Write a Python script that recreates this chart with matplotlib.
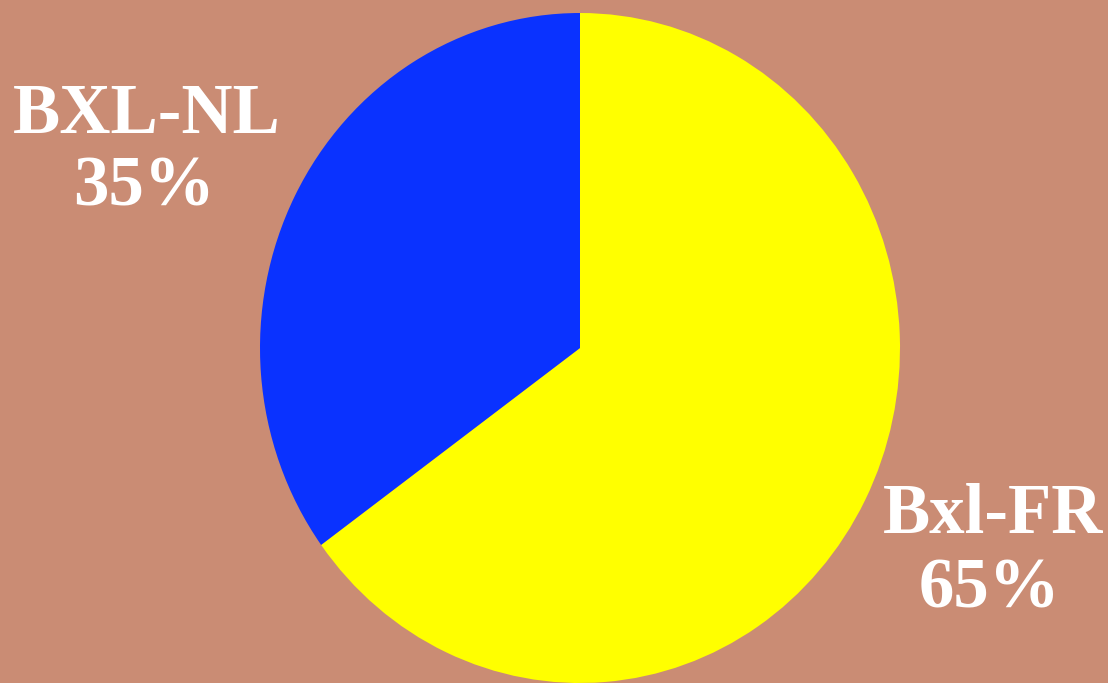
import matplotlib
matplotlib.use("Agg")
import matplotlib.pyplot as plt

labels = ["Bxl-FR", "BXL-NL"]
values = [65, 35]
colors = ["#FFFF00", "#0A32FF"]
bg = "#CA8C74"

W, H = 1108, 683
fig = plt.figure(figsize=(W / 100, H / 100), dpi=100, facecolor=bg)

# pie axes (slightly elliptical as in reference)
cx, cy, rx, ry = 580, 348, 320, 335
ax = fig.add_axes([(cx - rx) / W, (H - cy - ry) / H, 2 * rx / W, 2 * ry / H])
ax.pie(values, colors=colors, startangle=90, counterclock=False,
       wedgeprops=dict(linewidth=0))
ax.set_aspect("auto")
ax.set_xlim(-1, 1)
ax.set_ylim(-1, 1)
ax.set_axis_off()

# text overlay in pixel coordinates
tx = fig.add_axes([0, 0, 1, 1], facecolor="none")
tx.set_xlim(0, W)
tx.set_ylim(H, 0)
tx.set_axis_off()

font = dict(family="Liberation Serif", weight="bold", color="white",
            fontsize=51, ha="center", va="baseline")
pcts = [f"{v}%" for v in values]
tx.text(993, 533, labels[0], **font)
tx.text(989, 607, pcts[0], **font)
tx.text(147, 133, labels[1], **font)
tx.text(144, 205, pcts[1], **font)

fig.savefig("out.png", dpi=100, facecolor=bg)
